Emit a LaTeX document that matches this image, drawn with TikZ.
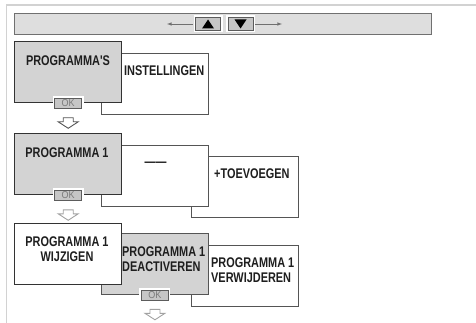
\documentclass[tikz,border=0pt]{standalone}
\usepackage{fontspec}
\newfontfamily\menufont{Liberation Sans}[FakeStretch=0.78]
\newfontfamily\okfont{Liberation Sans}[FakeStretch=0.9]
\usetikzlibrary{positioning}
\usetikzlibrary{arrows}
\definecolor{frame-gray}{HTML}{D2D2D2}
\definecolor{bar-fill}{HTML}{DEDEDE}
\definecolor{bar-line}{HTML}{707070}
\definecolor{box-fill}{HTML}{D3D3D3}
\definecolor{box-line}{HTML}{555555}
\definecolor{front-line}{HTML}{333333}
\definecolor{ok-fill}{HTML}{C6C6C6}
\definecolor{ok-line}{HTML}{5C5C5C}
\definecolor{ok-ink}{HTML}{7A7A7A}
\definecolor{menu-ink}{HTML}{1E1E1E}
\colorlet{arrow-dark}{box-line}
\colorlet{arrow-light}{ok-ink!70}
\tikzset{
  menu-box/.style={draw=box-line, fill=white, line width=0.9pt, inner sep=0pt,
    minimum width=107pt, minimum height=61pt, anchor=north west},
  menu-box-front/.style={menu-box, draw=front-line, line width=1.4pt},
  menu-text/.style={font=\menufont\bfseries\fontsize{14}{15}\selectfont,
    text=menu-ink, inner sep=0pt, anchor=north},
  ok-button/.style={draw=ok-line, fill=ok-fill, line width=0.8pt, inner sep=0pt,
    minimum width=27pt, minimum height=10pt, text=ok-ink,
    font=\okfont\fontsize{10}{10}\selectfont,
    preaction={draw=white, line width=4pt}},
  key-button/.style={draw=ok-line, fill=ok-fill, line width=0.8pt, inner sep=0pt,
    minimum width=25pt, minimum height=13pt,
    preaction={draw=white, line width=4pt}},
  top-bar/.style={draw=bar-line, fill=bar-fill, line width=0.9pt, inner sep=0pt,
    minimum width=417pt, minimum height=21pt, anchor=north west},
  nav-arrow/.style={draw=bar-line, line width=0.6pt, -latex, shorten <=2pt},
  hollow-arrow/.style={fill=white, line width=0.9pt, line join=miter},
}
% hollow arrow below an OK button
\newcommand{\tikznextarrow}[2][]{%
\draw[hollow-arrow,#1] ([yshift=-9pt]#2.south) ++(-5,0) -- ++(10,0) -- ++(0,4)
  -- ++(5,0) -- ++(-10,6.5) -- ++(-10,-6.5) -- ++(5,0) -- cycle;
}
\begin{document}
\begin{tikzpicture}[x=1pt, y=-1pt]
\useasboundingbox (0,0) rectangle (476,323);
% frame and key bar
\draw[frame-gray, line width=1.2pt] (476,5) -- (6.5,5) -- (6.5,323);
\node[top-bar] (bar) at (14,13) {};
\node[key-button] (key-up) at (208,24) {};
\node[key-button] (key-down) at (240.5,24) {};
\fill[black] (key-up.center) +(-6,4.5) -- +(6,4.5) -- +(0,-4.5) -- cycle;
\fill[black] (key-down.center) +(-6,-4.5) -- +(6,-4.5) -- +(0,4.5) -- cycle;
\coordinate (nav-left) at (167,24);
\coordinate (nav-right) at (282,24);
\draw[nav-arrow] (key-up.west) -- (nav-left);
\draw[nav-arrow] (key-down.east) -- (nav-right);
% first level
\node[menu-box] (settings) at (101,53) {};
\node[menu-box-front, fill=box-fill] (programs) at (14,41) {};
\node[menu-text] (programs-text) at (68,56) {PROGRAMMA'S};
\node[menu-text, anchor=north west] (settings-text) at (124,66) {INSTELLINGEN};
\node[ok-button] (ok-programs) at (programs.south) {OK};
\tikznextarrow[draw=arrow-dark]{ok-programs}
% second level
\node[menu-box] (add) at (191,156) {};
\node[menu-box] (empty) at (101,145) {};
\node[menu-box-front, fill=box-fill] (program) at (14,133) {};
\node[menu-text] (program-text) at (67,148) {PROGRAMMA 1};
\node[menu-text, anchor=base] (empty-text) at (155.5,166.5) {——};
\node[menu-text, anchor=north west] (add-text) at (214,169) {+TOEVOEGEN};
\node[ok-button] (ok-program) at (program.south) {OK};
\tikznextarrow[draw=arrow-light]{ok-program}
% third level
\node[menu-box] (remove) at (191,245) {};
\node[menu-box, fill=box-fill] (deactivate) at (101,233) {};
\node[menu-box-front] (change) at (14,223) {};
\node[menu-text, align=center] (change-text) at (67,237) {PROGRAMMA 1\\WIJZIGEN};
\node[menu-text, align=left, anchor=north west] (deactivate-text) at (122,247) {PROGRAMMA 1\\DEACTIVEREN};
\node[menu-text, align=left, anchor=north west] (remove-text) at (211,257.5) {PROGRAMMA 1\\VERWIJDEREN};
\node[ok-button] (ok-deactivate) at (deactivate.south) {OK};
\tikznextarrow[draw=arrow-light]{ok-deactivate}
\end{tikzpicture}
\end{document}
